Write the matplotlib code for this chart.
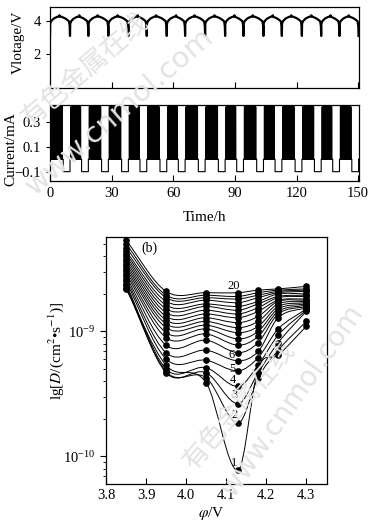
import numpy as np
import matplotlib
matplotlib.use('Agg')
import matplotlib.pyplot as plt
from matplotlib.path import Path
from matplotlib.patches import PathPatch

plt.rcParams['font.family'] = ['Liberation Serif', 'DejaVu Serif']
plt.rcParams['mathtext.fontset'] = 'stix'
plt.rcParams['font.size'] = 10.5

# ---------------- data: panel (a) ----------------
# times (h) of the sharp voltage dips (end of each discharge)
dip_times = [0.0, 9.74, 18.67, 28.41, 38.15, 47.09, 56.83, 65.76, 75.5,
             85.24, 94.17, 103.9, 112.85, 122.6, 132.0, 140.9, 150.2]
# voltage shape after a dip (h after dip, V)
rise_dt = [0.0, 0.1, 0.6, 1.8, 3.4, 4.4, 4.55, 4.7]
rise_v = [3.1, 3.85, 4.0, 4.15, 4.25, 4.28, 4.35, 4.28]
# voltage shape before the next dip (h before dip, V)
fall_dt = [-4.0, -2.5, -1.2, -0.5, -0.15, 0.0]
fall_v = [4.25, 4.17, 4.06, 3.98, 3.7, 3.1]

# current programme (mA, h)
I_charge = 0.42
I_rest = 0.0
I_discharge = -0.1
pulse_on_h = 0.16
pulse_off_h = 0.06
discharge_h = 3.3
rest_before_h = 0.4
rest_after_h = 0.4

time_ticks = [0, 30, 60, 90, 120, 150]
volt_ticks = [2, 4]
curr_ticks = [-0.1, 0.1, 0.3]

# ---------------- data: panel (b) ----------------
phi = [3.85, 3.95, 4.05, 4.13, 4.18, 4.23, 4.30]
# lg D for curves 1..20 at each potential
lgD_385 = [-8.66, -8.65, -8.63, -8.62, -8.60, -8.58, -8.56, -8.54, -8.52, -8.50,
           -8.48, -8.46, -8.44, -8.42, -8.40, -8.38, -8.36, -8.33, -8.30, -8.27]
lgD_395 = [-9.27, -9.32, -9.33, -9.30, -9.22, -9.17, -9.11, -9.05, -9.01, -8.97,
           -8.94, -8.91, -8.88, -8.85, -8.82, -8.79, -8.76, -8.73, -8.71, -8.68]
lgD_405 = [-9.41, -9.37, -9.33, -9.29, -9.23, -9.15, -9.07, -9.02, -8.98, -8.95,
           -8.92, -8.89, -8.86, -8.83, -8.80, -8.78, -8.75, -8.73, -8.71, -8.69]
lgD_413 = [-10.11, -9.733, -9.578, -9.44, -9.315, -9.235, -9.17, -9.11, -9.06, -9.01,
           -8.97, -8.93, -8.89, -8.86, -8.83, -8.80, -8.77, -8.74, -8.72, -8.69]
lgD_418 = [-9.30, -9.37, -9.33, -9.27, -9.21, -9.16, -9.09, -9.04, -9.00, -8.96,
           -8.92, -8.88, -8.84, -8.81, -8.78, -8.76, -8.73, -8.71, -8.69, -8.67]
lgD_423 = [-9.19, -9.15, -9.09, -9.03, -8.98, -8.89, -8.86, -8.84, -8.82, -8.80,
           -8.78, -8.76, -8.75, -8.73, -8.72, -8.70, -8.69, -8.68, -8.67, -8.66]
lgD_430 = [-8.96, -8.92, -8.84, -8.83, -8.82, -8.81, -8.80, -8.79, -8.78, -8.77,
           -8.76, -8.75, -8.74, -8.72, -8.71, -8.70, -8.68, -8.67, -8.66, -8.64]
curve_labels = ['1', '2', '3', '4', '5', '6', '20']
label_phi = [4.120, 4.122, 4.120, 4.118, 4.116, 4.113, 4.118]
label_lgD = [-10.05, -9.666, -9.506, -9.39, -9.30, -9.19, -8.64]
phi_ticks = [3.8, 3.9, 4.0, 4.1, 4.2, 4.3]

W, H = 372, 527
fig = plt.figure(figsize=(W / 100, H / 100), dpi=100)


def box(l, t, r, b):
    return [l / W, 1 - b / H, (r - l) / W, (b - t) / H]


# ---------- voltage panel ----------
axv = fig.add_axes(box(50, 7, 359, 88))
tv, vv = [], []
for k in range(len(dip_times) - 1):
    d0, d1 = dip_times[k], dip_times[k + 1]
    for dt, v in zip(rise_dt, rise_v):
        tv.append(d0 + dt); vv.append(v)
    for dt, v in zip(fall_dt[:-1], fall_v[:-1]):
        tv.append(d1 + dt); vv.append(v)
tv.append(dip_times[-1]); vv.append(fall_v[-1])
axv.plot(tv, vv, color='black', lw=1.6, solid_joinstyle='round')
axv.set_xlim(0, 150.4)
axv.set_ylim(-0.05, 4.85)
axv.set_yticks(volt_ticks)
axv.set_xticks(time_ticks)
axv.set_xticklabels([])
axv.tick_params(axis='x', direction='in', length=4, width=0.8)
axv.tick_params(axis='y', direction='out', length=3, width=0.8, labelsize=10.5)
axv.set_ylabel('Vlotage/V', fontsize=11)
axv.yaxis.set_label_coords(-0.081, 0.57)

# ---------- current panel ----------
axc = fig.add_axes(box(50, 105, 359, 181))
tc, ic = [], []
for k in range(len(dip_times) - 1):
    d0, d1 = dip_times[k], dip_times[k + 1]
    t = d0 + (rest_after_h if k > 0 else 0.0)
    if k > 0:
        tc.append(d0); ic.append(I_rest)
    t_end = d1 - discharge_h - rest_before_h
    while t < t_end:
        tc.append(t); ic.append(I_charge)
        tc.append(min(t + pulse_on_h, t_end)); ic.append(I_rest)
        t += pulse_on_h + pulse_off_h
    tc.append(t_end); ic.append(I_rest)
    tc.append(d1 - discharge_h); ic.append(I_discharge)
tc.append(dip_times[-1]); ic.append(I_rest)
axc.plot(tc, ic, color='black', lw=0.8, drawstyle='steps-post')
axc.set_xlim(0, 150.4)
axc.set_ylim(-0.175, 0.435)
axc.set_yticks(curr_ticks)
axc.set_yticklabels(['\u22120.1', '0.1', '0.3'])
axc.set_xticks(time_ticks)
axc.tick_params(axis='x', direction='in', length=4, width=0.8, labelsize=10.5, pad=4)
axc.tick_params(axis='y', direction='out', length=3, width=0.8, labelsize=10.5)
axc.set_ylabel('Current/mA', fontsize=11)
axc.yaxis.set_label_coords(-0.107, 0.42)
axc.set_xlabel('Time/h', fontsize=11, labelpad=8)

# ---------- diffusion coefficient panel ----------
axd = fig.add_axes(box(106, 237, 327, 484))
axd.set_yscale('log')
cols = np.array([lgD_385, lgD_395, lgD_405, lgD_413, lgD_418, lgD_423, lgD_430]).T
x = np.array(phi)
for row in cols:
    n = len(x)
    m = np.empty(n)
    m[0] = (row[1] - row[0]) / (x[1] - x[0])
    m[-1] = (row[-1] - row[-2]) / (x[-1] - x[-2])
    m[1:-1] = (row[2:] - row[:-2]) / (x[2:] - x[:-2])
    verts = [(x[0], 10 ** row[0])]
    codes = [Path.MOVETO]
    for i in range(n - 1):
        h = x[i + 1] - x[i]
        verts += [(x[i] + h / 3, 10 ** (row[i] + m[i] * h / 3)),
                  (x[i + 1] - h / 3, 10 ** (row[i + 1] - m[i + 1] * h / 3)),
                  (x[i + 1], 10 ** row[i + 1])]
        codes += [Path.CURVE4] * 3
    axd.add_patch(PathPatch(Path(verts, codes), fill=False, ec='black', lw=0.7))
    axd.plot(x, 10 ** row, 'o', color='black', ms=3.8, ls='none')

for lab, px, py in zip(curve_labels, label_phi, label_lgD):
    axd.text(px, 10 ** py, lab, fontsize=9, ha='center', va='center')
axd.text(3.909, 10 ** -8.333, '(b)', fontsize=10, ha='center', va='center')

axd.set_xlim(3.8, 4.352)
axd.set_ylim(10 ** -10.22, 10 ** -8.245)
axd.set_xticks(phi_ticks)
axd.set_xticklabels(['%.1f' % v for v in phi_ticks])
axd.tick_params(axis='x', direction='in', length=4, width=0.8, labelsize=10.5)
axd.tick_params(axis='y', which='major', direction='out', length=4, width=0.8, labelsize=10.5)
axd.tick_params(axis='y', which='minor', direction='out', length=2.5, width=0.6)
axd.set_xlabel(r'$\varphi$/V', fontsize=11)
axd.xaxis.set_label_coords(0.478, -0.085)
axd.set_ylabel(r'lg[$D$/(cm$^2$•s$^{-1}$)]', fontsize=11)
axd.yaxis.set_label_coords(-0.181, 0.54)

for ax in (axv, axc, axd):
    for s in ax.spines.values():
        s.set_linewidth(0.9)

# ---------- watermarks ----------
wm = dict(color='#e3e3e3', ha='center', va='center', zorder=5)
fig.text(85 / W, 1 - 70 / H, '有色金属在线', rotation=41, fontsize=19,
         family=['Noto Sans CJK SC', 'DejaVu Sans'], **wm)
fig.text(120 / W, 1 - 112 / H, 'www.cnmol.com', rotation=41, fontsize=21,
         family=['DejaVu Sans'], **wm)
fig.text(240 / W, 1 - 405 / H, '有色金属在线', rotation=50, fontsize=19,
         family=['Noto Sans CJK SC', 'DejaVu Sans'], **wm)
fig.text(292 / W, 1 - 400 / H, 'www.cnmol.com', rotation=55, fontsize=20,
         family=['DejaVu Sans'], **wm)

fig.savefig('out.png', dpi=100)
